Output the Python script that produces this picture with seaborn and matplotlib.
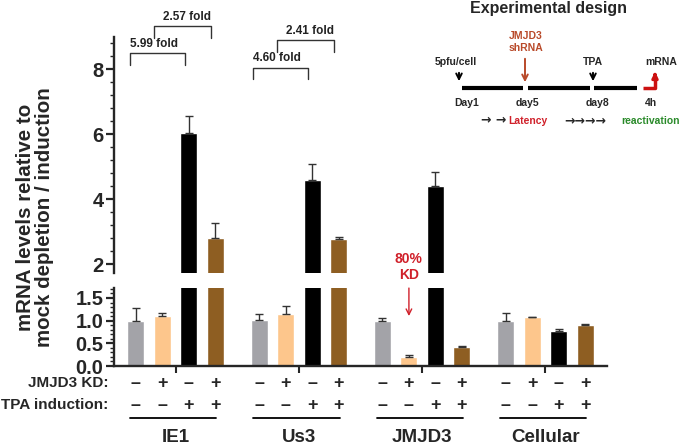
import matplotlib
matplotlib.use("Agg")
import matplotlib.pyplot as plt
import matplotlib.transforms as mtransforms
from matplotlib.ticker import MultipleLocator
import numpy as np
import pandas as pd
import seaborn as sns

# Data (mean and upward SEM)
genes = ["IE1", "Us3", "JMJD3", "Cellular"]
conditions = ["mock", "KD", "TPA", "KD+TPA"]
mock_vals = [1.00, 1.02, 1.00, 1.00]
kd_vals = [1.10, 1.14, 0.19, 1.07]
tpa_vals = [6.05, 4.60, 4.41, 0.77]
kdtpa_vals = [2.82, 2.77, 0.42, 0.91]
mock_err = [0.27, 0.13, 0.05, 0.16]
kd_err = [0.06, 0.19, 0.05, 0.02]
tpa_err = [0.50, 0.47, 0.42, 0.04]
kdtpa_err = [0.46, 0.08, 0.02, 0.02]
kd_signs = ["\u2013", "+", "\u2013", "+"]
tpa_signs = ["\u2013", "\u2013", "+", "+"]
fold_labels = ["5.99 fold", "2.57 fold", "4.60 fold", "2.41 fold"]
timeline_days = ["Day1", "day5", "day8", "4h"]
top_ticks = [2, 4, 6, 8]
bot_ticks = [0.0, 0.5, 1.0, 1.5]

colors = ["#a3a3a8", "#fdc68c", "#000000", "#8e5e22"]

df = pd.DataFrame({
    "gene": [g for c in conditions for g in genes],
    "cond": [c for c in conditions for _ in genes],
    "value": mock_vals + kd_vals + tpa_vals + kdtpa_vals,
    "err": mock_err + kd_err + tpa_err + kdtpa_err,
})

sns.set_style("ticks")
plt.rcParams["font.family"] = ["Liberation Sans", "DejaVu Sans"]
plt.rcParams["font.weight"] = "bold"

fig = plt.figure(figsize=(6.82, 4.45), dpi=100)
ax_top = fig.add_axes([0.1672, 0.3865, 0.7229, 0.5308])
ax_bot = fig.add_axes([0.1672, 0.1775, 0.7229, 0.1753])

for ax in (ax_top, ax_bot):
    sns.barplot(data=df, x="gene", y="value", hue="cond", order=genes,
                hue_order=conditions, palette=colors, width=0.86, gap=0.36,
                errorbar=None, legend=False, ax=ax, saturation=1)
    for cont, cond in zip(ax.containers, conditions):
        sub = df[df["cond"] == cond].set_index("gene").loc[genes]
        xs = [b.get_x() + b.get_width() / 2 for b in cont]
        ax.errorbar(xs, sub["value"], yerr=[np.zeros(4), sub["err"]], fmt="none",
                    ecolor="#333333", elinewidth=1.0, capsize=3, capthick=1.0)
    ax.set_xlim(-0.5, 3.5)
    ax.set_xlabel("")
    ax.set_ylabel("")
    for s in ["top", "right"]:
        ax.spines[s].set_visible(False)
    ax.spines["left"].set_linewidth(1.7)
    ax.tick_params(axis="y", which="major", length=6, width=1.6, labelsize=14.5,
                   direction="out", pad=1.5)
    ax.tick_params(axis="y", which="minor", length=3, width=1.0, direction="out")

# bar centres per condition
centers = {}
for cont, cond in zip(ax_bot.containers, conditions):
    centers[cond] = [b.get_x() + b.get_width() / 2 for b in cont]

ax_top.set_ylim(1.73, 9.0)
ax_top.set_yticks(top_ticks, labels=[str(t) for t in top_ticks], fontweight="bold")
ax_top.yaxis.set_minor_locator(MultipleLocator(0.4))
ax_top.spines["bottom"].set_visible(False)
ax_top.tick_params(axis="x", which="both", bottom=False, labelbottom=False)

ax_bot.set_ylim(0, 1.72)
ax_bot.set_yticks(bot_ticks, labels=[f"{t:.1f}" for t in bot_ticks], fontweight="bold")
ax_bot.yaxis.set_minor_locator(MultipleLocator(0.1))
ax_bot.spines["bottom"].set_linewidth(1.7)
ax_bot.set_xticks(range(4))
ax_bot.set_xticklabels([])
ax_bot.tick_params(axis="x", length=5, width=1.5, direction="out")

# fold-change brackets
brackets = [
    (centers["mock"][0] - 0.05, centers["TPA"][0] - 0.03, 8.13, 8.50, fold_labels[0], "left"),
    (centers["KD"][0] - 0.07, centers["KD+TPA"][0] - 0.035, 8.96, 9.33, fold_labels[1], "right"),
    (centers["mock"][1] - 0.05, centers["TPA"][1] - 0.03, 7.70, 8.05, fold_labels[2], "left"),
    (centers["KD"][1] - 0.07, centers["KD+TPA"][1] - 0.035, 8.53, 8.90, fold_labels[3], "right"),
]
for x0, x1, ylo, yhi, lab, ha in brackets:
    ax_top.plot([x0, x0, x1, x1], [ylo, yhi, yhi, ylo], color="#333333", lw=1.0, clip_on=False)
    ax_top.text(x0 if ha == "left" else x1, yhi + 0.1, lab, ha=ha, va="bottom",
                fontsize=8.5, fontweight="bold", color="#222222", clip_on=False)

# 80% KD annotation
kx = centers["KD"][2]
ax_bot.annotate("", xy=(kx, 1.04), xytext=(kx, 1.78),
                arrowprops=dict(arrowstyle="->", color="#d0202a", lw=1.0), annotation_clip=False)
ax_bot.text(kx, 1.85, "80%\nKD", ha="center", va="bottom", color="#d0202a",
            fontsize=10, fontweight="bold", linespacing=1.15, clip_on=False)

# condition table under the axis
trans = mtransforms.blended_transform_factory(ax_bot.transData, ax_bot.transAxes)
for gi in range(4):
    for ci, cond in enumerate(conditions):
        x = centers[cond][gi]
        ax_bot.text(x, -0.22, kd_signs[ci], ha="center", va="center", fontsize=13,
                    fontweight="bold", transform=trans, clip_on=False)
        ax_bot.text(x, -0.50, tpa_signs[ci], ha="center", va="center", fontsize=13,
                    fontweight="bold", transform=trans, clip_on=False)
    ax_bot.plot([gi - 0.37, gi + 0.33], [-0.67, -0.67], color="black", lw=1.3,
                transform=trans, clip_on=False)
    ax_bot.text(gi, -0.92, genes[gi], ha="center", va="center", fontsize=13.5,
                fontweight="bold", transform=trans, clip_on=False)
ax_bot.text(-0.012, -0.22, "JMJD3 KD:", ha="right", va="center", fontsize=11,
            fontweight="bold", transform=ax_bot.transAxes)
ax_bot.text(-0.012, -0.50, "TPA induction:", ha="right", va="center", fontsize=11,
            fontweight="bold", transform=ax_bot.transAxes)

fig.text(0.052, 0.512, "mRNA levels relative to\nmock depletion / induction",
         rotation=90, ha="center", va="center", fontsize=14.8, fontweight="bold",
         linespacing=1.0)

# Experimental design inset (pixel coordinates)
ins = fig.add_axes([0, 0, 1, 1], facecolor="none")
ins.set_xlim(0, 682)
ins.set_ylim(445, 0)
ins.axis("off")
ins.text(548, 9, "Experimental design", ha="center", va="center", fontsize=11.5, fontweight="bold")
for xa, xb in [(462, 523), (528, 590), (594, 637)]:
    ins.plot([xa, xb], [87.5, 87.5], color="black", lw=3, solid_capstyle="butt")
ins.annotate("", xy=(459, 84), xytext=(459, 70),
             arrowprops=dict(arrowstyle="->", color="black", lw=1.4))
ins.annotate("", xy=(593, 84), xytext=(593, 70),
             arrowprops=dict(arrowstyle="->", color="black", lw=1.4))
ins.annotate("", xy=(525, 85), xytext=(525, 56),
             arrowprops=dict(arrowstyle="->", color="#b94a2a", lw=1.4))
ins.plot([643, 655, 655], [87.5, 87.5, 76], color="#cc1111", lw=2.5, solid_capstyle="butt")
ins.annotate("", xy=(655, 69), xytext=(655, 78),
             arrowprops=dict(arrowstyle="-|>", color="#cc1111", lw=2.2, mutation_scale=8))
ins.text(456, 62, "5pfu/cell", ha="center", va="center", fontsize=7.5, fontweight="bold")
ins.text(526, 42, "JMJD3\nshRNA", ha="center", va="center", fontsize=7.5,
         fontweight="bold", color="#b94a2a", linespacing=1.3)
ins.text(593, 62, "TPA", ha="center", va="center", fontsize=7.5, fontweight="bold")
ins.text(661, 62, "mRNA", ha="center", va="center", fontsize=7.5, fontweight="bold")
for xd, lab in zip([467, 527, 598, 651], timeline_days):
    ins.text(xd, 103, lab, ha="center", va="center", fontsize=7.5, fontweight="bold")
ins.text(494, 121, "\u2192 \u2192", ha="center", va="center", fontsize=9,
         fontweight="bold", family="DejaVu Sans")
ins.text(528, 121, "Latency", ha="center", va="center", fontsize=7.5,
         fontweight="bold", color="#d0202a")
ins.text(585, 121, "\u2192\u2192\u2192\u2192", ha="center", va="center", fontsize=9,
         fontweight="bold", family="DejaVu Sans")
ins.text(651, 121, "reactivation", ha="center", va="center", fontsize=7.5,
         fontweight="bold", color="#2a8a2a")

fig.savefig("out.png", dpi=100)
